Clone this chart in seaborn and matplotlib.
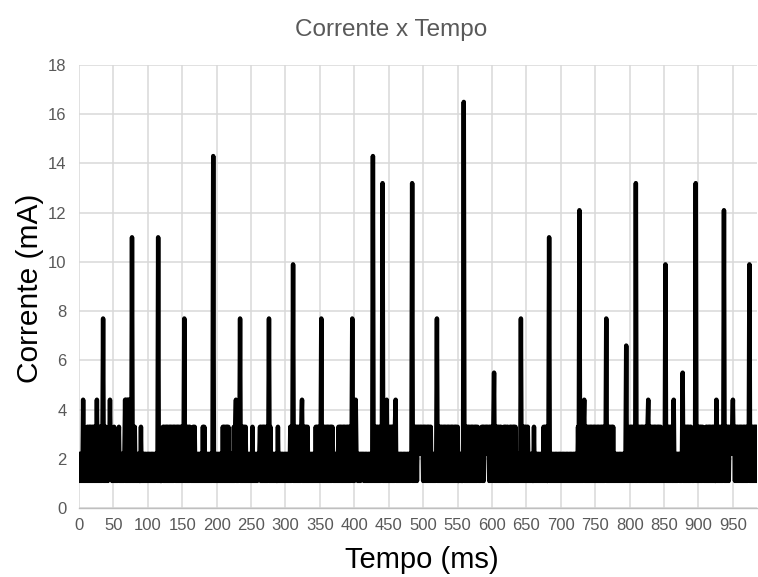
import numpy as np
import pandas as pd
import seaborn as sns
import matplotlib
matplotlib.use("Agg")
import matplotlib.pyplot as plt

# ---------------- data ----------------
title = "Corrente x Tempo"
x_label = "Tempo (ms)"
y_label = "Corrente (mA)"
x_ticks = list(range(0, 951, 50))
y_ticks = list(range(0, 19, 2))
adc_step_mA = 1.1          # current of one ADC step
sample_period_ms = 1

# one hex digit per 1 ms sample = current in ADC steps, 50 samples per row
samples_rows = [
    ("21212" "1412" "121" "313131313131" "314131" "3131" "271" "313121" "224221" "2"),
    ("131" "2121" "231" "2121212" "41414141" "31A1" "21312" "12121" "131" "21212121"),
    ("2121212121212" "21A1" "21112" "31313131313131313" "2" "3131313131"),
    ("31271" "3131313" "212" "13131" "212121212" "1313" "12121212121" "2D1" "212"),
    ("121212121" "3131313131" "212121" "313" "41313271" "3131313" "1212121"),
    ("21312" "121212" "22" "313131313131" "27131" "21212121" "131" "212121212"),
    ("1212121" "313291313" "13131313" "4" "131313131" "2121212121" "313131"),
    ("32713" "13131313131313" "21212121" "3131313131313131313" "2713"),
    ("1342" "2121212" "222" "12121212121" "21D13" "1313131313" "2C1" "3131413"),
    ("13131313" "1341" "212121212121212121212" "2C1" "3131313" "3232323"),
    ("1313131313131" "21212" "1271" "3131313131313131313131313131"),
    ("311" "2121" "12F1" "3131313131313131313" "21212" "3131" "3232323" "1313"),
    ("31351" "3131313131" "21" "31313131" "2" "313131313" "121212" "171" "313131"),
    ("3131" "212121" "131" "212121212121" "31313" "11" "2A1" "212121212121212"),
    ("1212121212121212121212121" "31B1" "31313" "4" "131313131313131"),
    ("313131313131313" "271" "3131313131" "2121212121212121" "261" "212"),
    ("3131313" "21C1" "212" "3131313131313" "4" "1313131313131313131" "212"),
    ("1291" "31313131" "21" "4" "12121" "222" "121251" "31313131313" "21212" "2C1" "31"),
    ("3131313" "2121" "31313131313131" "141" "31313131" "2B1" "313131" "32323"),
    ("423" "13131313131313131313" "291" "313131313131313131313131"),
]

steps = [int(ch, 16) for row in samples_rows for ch in row]
df = pd.DataFrame({
    "Tempo": np.arange(len(steps)) * sample_period_ms,
    "Corrente": np.array(steps) * adc_step_mA,
})

# ---------------- style ----------------
sns.set_theme(style="white")
plt.rcParams["font.family"] = ["Liberation Sans", "DejaVu Sans"]

W, H = 758, 577
fig = plt.figure(figsize=(W / 100, H / 100), dpi=100)
ax = fig.add_axes([79 / W, (H - 508) / H, 678 / W, 443 / H])

sns.lineplot(data=df, x="Tempo", y="Corrente", ax=ax, color="black",
             linewidth=3.2, estimator=None, sort=False)

ax.set_xlim(0, 985)
ax.set_ylim(0, 18)
ax.set_xticks(x_ticks)
ax.set_yticks(y_ticks)
ax.set_xticklabels([str(v) for v in x_ticks])
ax.set_yticklabels([str(v) for v in y_ticks])
ax.grid(True, color="#d9d9d9", linewidth=1.1)
ax.set_axisbelow(True)

for s in ["top", "right", "left"]:
    ax.spines[s].set_visible(False)
ax.spines["bottom"].set_color("#bfbfbf")
ax.spines["bottom"].set_linewidth(1.0)

ax.tick_params(axis="x", colors="#595959", labelsize=12, length=4, width=1,
               color="#bfbfbf", direction="out", pad=3)
ax.tick_params(axis="y", colors="#595959", labelsize=12, length=0, pad=9)
ax.set_xlabel("")
ax.set_ylabel("")

fig.text(391 / W, 1 - 30 / H, title, ha="center", va="center",
         fontsize=17.5, color="#595959")
fig.text(422 / W, 1 - 560 / H, x_label, ha="center", va="center",
         fontsize=21, color="black")
fig.text(30 / W, 1 - 288 / H, y_label, ha="center", va="center",
         rotation=90, fontsize=21.5, color="black")

fig.savefig("out.png", dpi=100, facecolor="white")
